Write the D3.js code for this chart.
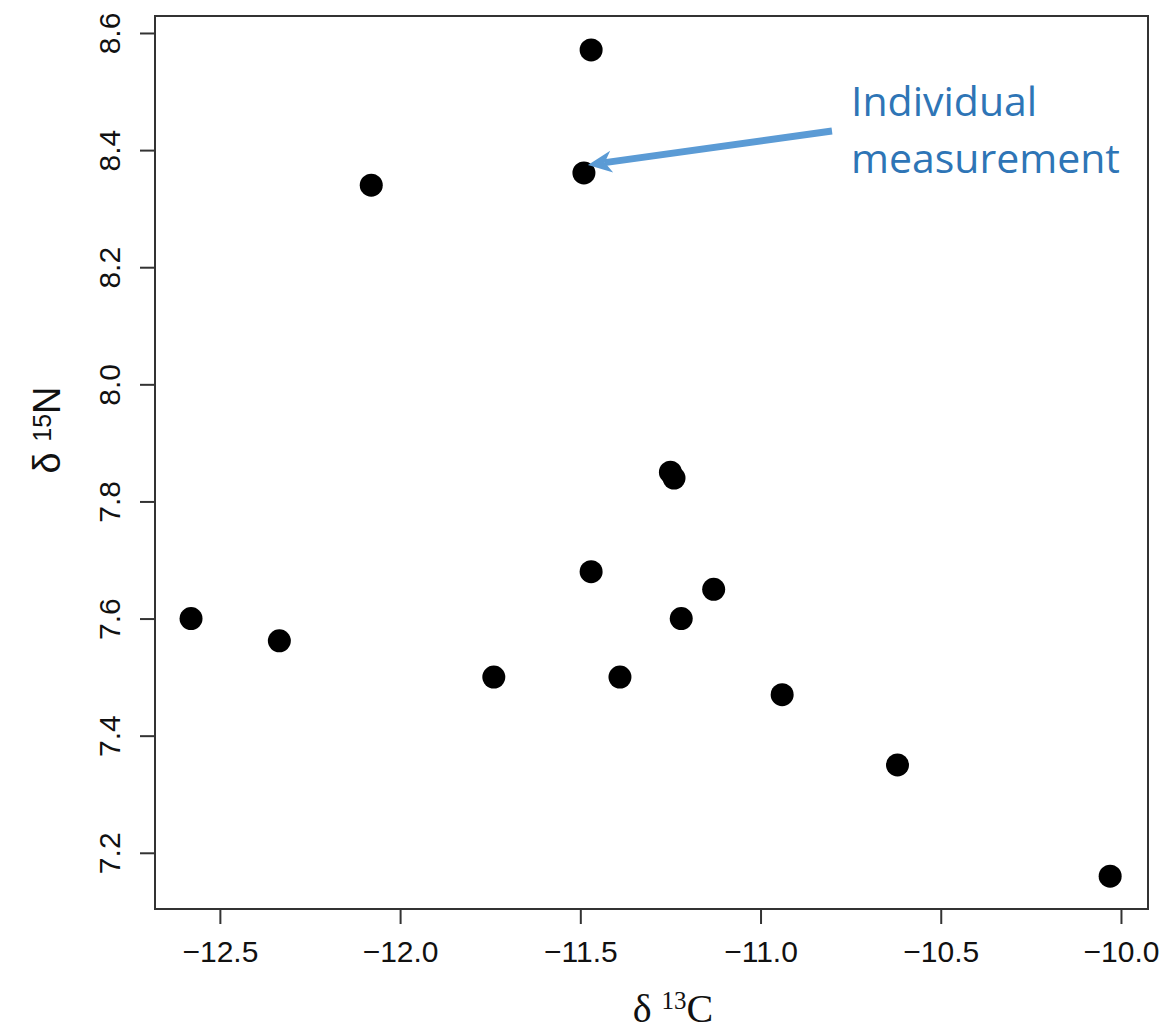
<!DOCTYPE html>
<html>
<head>
<meta charset="utf-8">
<script src="https://cdn.jsdelivr.net/npm/d3@7"></script>
<style>
  body { margin: 0; background: #fff; }
  svg { display: block; }
</style>
</head>
<body>
<div id="chart"></div>
<script>
// isotope values, one entry per measurement
const d13C = [-12.58, -12.335, -12.08, -11.74, -11.47, -11.49, -11.47, -11.39, -11.25, -11.24, -11.22, -11.13, -10.94, -10.62, -10.03];
const d15N = [7.60, 7.562, 8.34, 7.50, 8.571, 8.361, 7.68, 7.50, 7.85, 7.84, 7.60, 7.65, 7.47, 7.35, 7.16];

const xTicks = [-12.5, -12.0, -11.5, -11.0, -10.5, -10.0];
const yTicks = [7.2, 7.4, 7.6, 7.8, 8.0, 8.2, 8.4, 8.6];

const annotationLines = ['Individual', 'measurement'];
const annotatedIndex = 5;

const width = 1165, height = 1031;
const plotLeft = 155, plotRight = 1148, plotTop = 16, plotBottom = 909;

const svg = d3.select('#chart')
              .append('svg')
              .attr('width', width)
              .attr('height', height);

const xScale = d3.scaleLinear()
                 .domain([-12.68, -9.925])
                 .range([plotLeft, plotRight]);

const yScale = d3.scaleLinear()
                 .domain([7.104, 8.629])
                 .range([plotBottom, plotTop]);

const fmt = d3.format('.1f');
const axisFont = '"Liberation Sans", Arial, Helvetica, sans-serif';

// x axis
const xAxis = svg.append('g')
                 .attr('transform', 'translate(0,' + plotBottom + ')')
                 .call(d3.axisBottom(xScale)
                         .tickValues(xTicks)
                         .tickSize(15)
                         .tickPadding(17)
                         .tickFormat(fmt));
xAxis.select('.domain').remove();
xAxis.selectAll('.tick line').attr('stroke', '#333').attr('stroke-width', 2);
xAxis.selectAll('.tick text')
     .attr('fill', '#111')
     .style('font-family', axisFont)
     .style('font-size', '30px');

// y axis, labels parallel to the axis
const yAxis = svg.append('g')
                 .attr('transform', 'translate(' + plotLeft + ',0)')
                 .call(d3.axisLeft(yScale)
                         .tickValues(yTicks)
                         .tickSize(15)
                         .tickFormat(fmt));
yAxis.select('.domain').remove();
yAxis.selectAll('.tick line').attr('stroke', '#333').attr('stroke-width', 2);
yAxis.selectAll('.tick text')
     .attr('transform', 'rotate(-90)')
     .attr('x', 0)
     .attr('y', -35)
     .attr('dy', 0)
     .attr('text-anchor', 'middle')
     .attr('fill', '#111')
     .style('font-family', axisFont)
     .style('font-size', '30px');

// plot frame
svg.append('rect')
   .attr('x', plotLeft)
   .attr('y', plotTop)
   .attr('width', plotRight - plotLeft)
   .attr('height', plotBottom - plotTop)
   .attr('fill', 'none')
   .attr('stroke', '#333')
   .attr('stroke-width', 2);

// axis titles
const xTitle = svg.append('text')
                  .attr('x', 673)
                  .attr('y', 1022)
                  .attr('text-anchor', 'middle')
                  .attr('fill', '#111')
                  .style('font-family', '"Liberation Serif", "Times New Roman", serif')
                  .style('font-size', '40px');
xTitle.append('tspan').text('δ ');
xTitle.append('tspan').attr('dy', -13).style('font-size', '25px').text('13');
xTitle.append('tspan').attr('dy', 13).text('C');

const yTitle = svg.append('text')
                  .attr('transform', 'translate(60,430) rotate(-90)')
                  .attr('text-anchor', 'middle')
                  .attr('fill', '#111')
                  .style('font-family', axisFont)
                  .style('font-size', '38px');
yTitle.append('tspan').text('δ ');
yTitle.append('tspan').attr('dy', -9).style('font-size', '25px').text('15');
yTitle.append('tspan').attr('dy', 9).text('N');

// points
svg.selectAll('.dot')
   .data(d13C)
   .enter()
     .append('circle')
     .attr('class', 'dot')
     .attr('cx', (d, i) => xScale(d))
     .attr('cy', (d, i) => yScale(d15N[i]))
     .attr('r', 11.5)
     .attr('fill', '#000');

// annotation arrow pointing at one measurement
const px = xScale(d13C[annotatedIndex]), py = yScale(d15N[annotatedIndex]);
const tip = [px + 4, py - 8];
const start = [832, 131];
const len = Math.hypot(tip[0] - start[0], tip[1] - start[1]);
const ux = (tip[0] - start[0]) / len, uy = (tip[1] - start[1]) / len;
const nx = -uy, ny = ux;
const headLen = 24, headHalf = 11, notch = 17;
const back = [tip[0] - ux * headLen, tip[1] - uy * headLen];
const notchPt = [tip[0] - ux * notch, tip[1] - uy * notch];

svg.append('line')
   .attr('x1', start[0])
   .attr('y1', start[1])
   .attr('x2', notchPt[0])
   .attr('y2', notchPt[1])
   .attr('stroke', '#5B9BD5')
   .attr('stroke-width', 7);

svg.append('path')
   .attr('d', d3.line()([
       tip,
       [back[0] + nx * headHalf, back[1] + ny * headHalf],
       notchPt,
       [back[0] - nx * headHalf, back[1] - ny * headHalf]
   ]) + 'Z')
   .attr('fill', '#5B9BD5');

svg.selectAll('.note')
   .data(annotationLines)
   .enter()
     .append('text')
     .attr('class', 'note')
     .attr('x', 851)
     .attr('y', (d, i) => 116 + i * 57)
     .attr('fill', '#2E75B6')
     .style('font-family', '"Open Sans", "Noto Sans", sans-serif')
     .style('font-size', '41px')
     .text(d => d);
</script>
</body>
</html>
